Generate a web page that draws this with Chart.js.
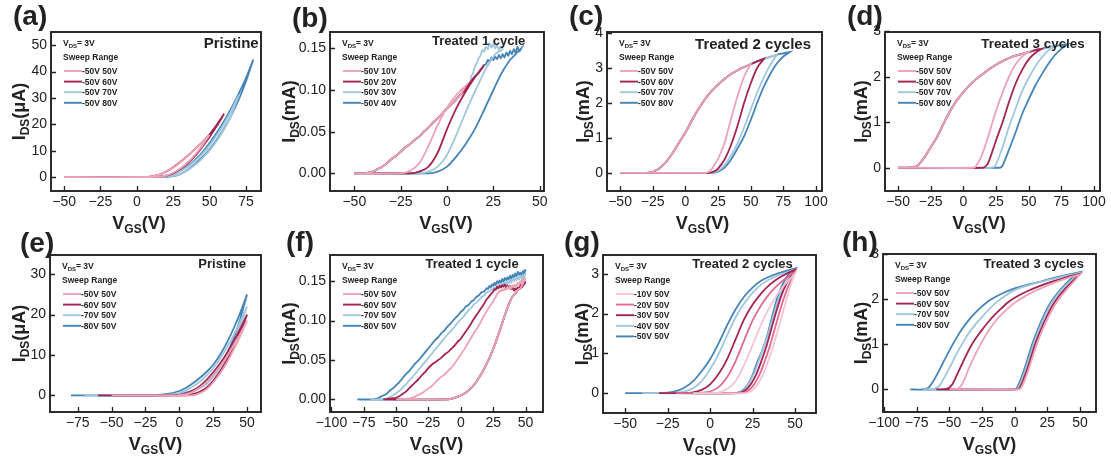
<!DOCTYPE html>
<html>
<head>
<meta charset="utf-8">
<script src="https://cdn.jsdelivr.net/npm/chart.js@4.4.1/dist/chart.umd.min.js"></script>
<style>
  html, body { margin: 0; padding: 0; background: #fff; }
  #fig { position: relative; width: 1111px; height: 464px; overflow: hidden; background: #fff; }
  #fig canvas { position: absolute; }
</style>
</head>
<body>
<div id="fig"></div>
<script>
// ---------- transfer curves: each sweep is [V_GS, I_DS] pairs, forward (Up) then backward (Dn) ----------

// (a) pristine, I_DS in uA
const sweepsA = ['-50V 50V', '-50V 60V', '-50V 70V', '-50V 80V'];
const a50Up = [[-50,0],[10,0],[15,0.1],[20,0.5],[25,1.6],[30,3.3],[35,5.6],[40,8.5],[45,12],[50,16]];
const a50Dn = [[50,16],[45,13.2],[40,10.6],[35,8],[30,5.7],[25,3.6],[20,2],[15,0.8],[10,0.2],[5,0],[-50,0]];
const a60Up = [[-50,0],[12,0],[15,0.1],[20,0.4],[25,1.4],[30,3],[35,5.2],[40,8],[45,11.5],[50,15.2],[55,19.4],[60,24]];
const a60Dn = [[60,24],[55,19.9],[50,16.2],[45,13.2],[40,10.6],[35,8.1],[30,5.8],[25,3.7],[20,2],[15,0.8],[10,0.2],[5,0],[-50,0]];
const a70Up = [[-50,0],[18,0],[20,0.1],[25,0.4],[30,1.2],[35,2.6],[40,4.6],[45,7.1],[50,10.1],[55,13.8],[60,18.2],[65,23.6],[70,31]];
const a70Dn = [[70,31],[65,25.4],[60,20.3],[55,15.9],[50,12],[45,8.8],[40,6.1],[35,3.9],[30,2.3],[25,1.1],[20,0.4],[15,0.1],[10,0],[-50,0]];
const a80Up = [[-50,0],[20,0],[25,0.3],[30,1.2],[35,2.8],[40,5],[45,7.5],[50,10.5],[55,14.2],[60,18.5],[65,23.5],[70,29.3],[75,36.3],[80,44.5]];
const a80Dn = [[80,44.5],[75,37.6],[70,31.6],[65,26.2],[60,21.3],[55,16.9],[50,12.9],[45,9.4],[40,6.5],[35,4.2],[30,2.5],[25,1.3],[20,0.5],[15,0.15],[10,0],[-50,0]];

// (b) treated 1 cycle, I_DS in mA; backward sweeps share one envelope
const sweepsB = ['-50V 10V', '-50V 20V', '-50V 30V', '-50V 40V'];
const bEnvelope = [[20,0.13],[17.5,0.122],[15,0.116],[12.5,0.109],[10,0.101],[7.5,0.095],[5,0.089],[2.5,0.083],[0,0.078],[-2.5,0.072],[-5,0.066],[-7.5,0.061],[-10,0.055],[-12.5,0.05],[-15,0.044],[-17.5,0.04],[-20,0.035],[-22.5,0.031],[-25,0.026],[-27.5,0.021],[-30,0.017],[-32.5,0.012],[-35,0.008],[-37.5,0.005],[-40,0.002],[-45,0],[-50,0]];
const b10Up = [[-50,0],[-25,0],[-20,0.003],[-15,0.012],[-10,0.033],[-5,0.058],[0,0.079],[5,0.094],[10,0.105]];
const b10Dn = [[10,0.105]].concat(bEnvelope.filter(p => p[0] < 10));
const b20Up = [[-50,0],[-20,0],[-15,0.002],[-10,0.008],[-5,0.025],[0,0.053],[5,0.078],[10,0.098],[15,0.115],[20,0.13]];
const b20Dn = [[20,0.13]].concat(bEnvelope.filter(p => p[0] < 20));
const b30Up = [[-50,0],[-15,0],[-10,0.002],[-5,0.008],[0,0.022],[5,0.046],[10,0.073],[15,0.098],[18,0.112],[21,0.126],[23,0.133],[25,0.14],[27,0.145],[29,0.147],[30,0.149]];
const b30Dn = [[30,0.149],[29,0.152],[28,0.148],[27,0.154],[26,0.15],[25,0.155],[24,0.151],[23,0.156],[22,0.149],[21,0.152],[20,0.146],[19,0.148],[18,0.141],[17,0.138],[16,0.132],[15,0.128],[14,0.12],[13,0.116]].concat(bEnvelope.filter(p => p[0] < 13));
const b40Up = [[-50,0],[-10,0],[-5,0.002],[0,0.008],[5,0.02],[10,0.035],[15,0.053],[20,0.076],[25,0.1],[28,0.114],[31,0.126],[34,0.136],[37,0.143],[40,0.15]];
const b40Dn = [[40,0.15],[39,0.146],[38,0.152],[37,0.145],[36,0.149],[35,0.143],[34,0.147],[33,0.141],[32,0.145],[31,0.139],[30,0.143],[29,0.138],[28,0.142],[27,0.137],[26,0.14],[25,0.136],[24,0.139],[23,0.134],[22,0.136],[21,0.131],[20,0.13],[19,0.126],[18,0.124],[17,0.12],[16,0.118]].concat(bEnvelope.filter(p => p[0] < 16));

// (c) treated 2 cycles, I_DS in mA
const sweepsC = ['-50V 50V', '-50V 60V', '-50V 70V', '-50V 80V'];
const cUpper = [[80,3.45],[75,3.41],[70,3.37],[65,3.31],[60,3.25],[55,3.18],[50,3.1],[45,3.02],[40,2.93],[35,2.82],[30,2.68],[25,2.52],[20,2.33],[15,2.1],[10,1.82],[5,1.5],[0,1.15],[-5,0.85],[-10,0.55],[-15,0.3],[-20,0.12],[-25,0.03],[-30,0],[-50,0]];
const c50Up = [[-50,0],[15,0],[18,0.03],[20,0.1],[25,0.4],[30,0.85],[35,1.55],[40,2.2],[45,2.75],[50,3.1]];
const c50Dn = [[50,3.1]].concat(cUpper.filter(p => p[0] < 50));
const c60Up = [[-50,0],[18,0],[22,0.04],[25,0.12],[30,0.38],[35,0.8],[40,1.35],[45,2.0],[50,2.55],[55,3.0],[60,3.25]];
const c60Dn = [[60,3.25]].concat(cUpper.filter(p => p[0] < 60));
const c70Up = [[-50,0],[20,0],[25,0.06],[30,0.22],[35,0.5],[40,0.85],[45,1.3],[50,1.8],[55,2.3],[60,2.72],[65,3.08],[70,3.37]];
const c70Dn = [[70,3.37]].concat(cUpper.filter(p => p[0] < 70));
const c80Up = [[-50,0],[22,0],[25,0.03],[30,0.15],[35,0.38],[40,0.7],[45,1.05],[50,1.5],[55,2.0],[60,2.45],[65,2.82],[70,3.12],[75,3.32],[80,3.45]];
const c80Dn = [[80,3.45]].concat(cUpper.filter(p => p[0] < 80));

// (d) treated 3 cycles, I_DS in mA
const sweepsD = ['-50V 50V', '-50V 60V', '-50V 70V', '-50V 80V'];
const dUpper = [[80,2.71],[75,2.69],[70,2.67],[65,2.64],[60,2.61],[55,2.58],[50,2.54],[45,2.5],[40,2.46],[35,2.41],[30,2.34],[25,2.26],[20,2.17],[15,2.06],[10,1.95],[5,1.82],[0,1.66],[-5,1.48],[-10,1.25],[-15,0.98],[-20,0.68],[-25,0.45],[-30,0.22],[-35,0.05],[-40,0],[-50,0]];
const d50Up = [[-50,0],[8,0],[10,0.05],[13,0.2],[16,0.42],[20,0.78],[25,1.25],[30,1.65],[35,2.0],[40,2.27],[45,2.44],[50,2.54]];
const d50Dn = [[50,2.54]].concat(dUpper.filter(p => p[0] < 50));
const d60Up = [[-50,0],[15,0],[18,0.06],[20,0.18],[25,0.6],[30,1.0],[35,1.45],[40,1.85],[45,2.15],[50,2.38],[55,2.52],[60,2.61]];
const d60Dn = [[60,2.61]].concat(dUpper.filter(p => p[0] < 60));
const d70Up = [[-50,0],[22,0],[25,0.08],[30,0.45],[35,0.9],[40,1.3],[45,1.68],[50,1.97],[55,2.22],[60,2.42],[65,2.57],[70,2.67]];
const d70Dn = [[70,2.67]].concat(dUpper.filter(p => p[0] < 70));
const d80Up = [[-50,0],[28,0],[30,0.05],[35,0.4],[40,0.78],[45,1.18],[50,1.5],[55,1.8],[60,2.05],[65,2.28],[70,2.47],[75,2.61],[80,2.71]];
const d80Dn = [[80,2.71]].concat(dUpper.filter(p => p[0] < 80));

// (e) pristine, negative start varied, I_DS in uA
const sweepsE = ['-50V 50V', '-60V 50V', '-70V 50V', '-80V 50V'];
const e50Up = [[-50,0],[10,0],[15,0.5],[20,1.5],[25,3.2],[30,5.4],[35,8.1],[40,11.2],[45,14.7],[50,18.5]];
const e50Dn = [[50,18.5],[45,15.3],[40,12.3],[35,9.6],[30,7.2],[25,5.1],[20,3.3],[15,1.9],[10,0.9],[5,0.3],[0,0.05],[-5,0],[-50,0]];
const e60Up = [[-60,0],[5,0],[10,0.3],[15,0.9],[20,1.9],[25,3.6],[30,5.9],[35,8.7],[40,11.9],[45,15.6],[50,20]];
const e60Dn = [[50,20],[45,16.5],[40,13.3],[35,10.4],[30,7.9],[25,5.7],[20,3.8],[15,2.3],[10,1.2],[5,0.5],[0,0.15],[-10,0],[-60,0]];
const e70Up = [[-70,0],[-5,0],[0,0.2],[5,0.5],[10,0.9],[15,1.7],[20,2.8],[25,4.5],[30,6.8],[35,9.6],[40,13],[45,17.2],[50,22]];
const e70Dn = [[50,22],[45,18.3],[40,14.8],[35,11.8],[30,9.1],[25,6.8],[20,4.9],[15,3.4],[10,2.2],[5,1.3],[0,0.6],[-10,0.15],[-20,0],[-70,0]];
const e80Up = [[-80,0],[-10,0],[0,0.3],[5,0.7],[10,1.2],[15,2.0],[20,3.2],[25,5],[30,7.4],[35,10.3],[40,14],[45,19],[50,25]];
const e80Dn = [[50,25],[45,20.5],[40,16.5],[35,13],[30,10],[25,7.6],[20,5.8],[15,4.3],[10,3],[5,1.9],[0,1.1],[-10,0.3],[-20,0.05],[-30,0],[-80,0]];

// (f) treated 1 cycle, negative start varied, I_DS in mA; forward sweeps share one rise
const sweepsF = ['-50V 50V', '-60V 50V', '-70V 50V', '-80V 50V'];
const fRise = [[-10,0],[-5,0.002],[0,0.005],[5,0.01],[10,0.018],[15,0.03],[20,0.045],[25,0.064],[30,0.087],[33,0.102],[36,0.116],[38,0.124],[40,0.131],[42,0.134],[44,0.139],[46,0.141]];
const f50Up = [[-50,0]].concat(fRise, [[48,0.147],[50,0.155]]);
const f50Dn = [[50,0.155],[49,0.15],[48,0.153],[47,0.147],[46,0.15],[45,0.145],[44,0.148],[43,0.143],[42,0.146],[41,0.142],[40,0.145],[39,0.141],[38,0.143],[37,0.14],[36,0.143],[35,0.139],[34,0.141],[33,0.138],[32,0.14],[31,0.137],[30,0.138],[29,0.135],[28,0.134],[27,0.13],[26,0.128],[25,0.124],[24,0.122],[22,0.117],[20,0.112],[17.5,0.105],[15,0.097],[12.5,0.09],[10,0.084],[7.5,0.077],[5,0.07],[2.5,0.063],[0,0.057],[-2.5,0.051],[-5,0.045],[-7.5,0.04],[-10,0.036],[-12.5,0.032],[-15,0.029],[-17.5,0.025],[-20,0.021],[-22.5,0.017],[-25,0.014],[-27.5,0.011],[-30,0.008],[-35,0.004],[-40,0.001],[-45,0],[-50,0]];
const f60Up = [[-60,0]].concat(fRise, [[48,0.144],[50,0.15]]);
const f60Dn = [[50,0.15],[49,0.146],[48,0.148],[47,0.143],[46,0.145],[45,0.14],[44,0.142],[43,0.139],[42,0.141],[41,0.138],[40,0.142],[39,0.14],[38,0.144],[37,0.141],[36,0.145],[35,0.142],[34,0.146],[33,0.143],[32,0.145],[31,0.142],[30,0.144],[29,0.141],[28,0.143],[27,0.139],[26,0.14],[25,0.137],[24,0.135],[22,0.131],[20,0.127],[17.5,0.12],[15,0.114],[12.5,0.108],[10,0.102],[7.5,0.095],[5,0.089],[2.5,0.083],[0,0.077],[-2.5,0.073],[-5,0.068],[-7.5,0.064],[-10,0.06],[-12.5,0.057],[-15,0.053],[-17.5,0.05],[-20,0.047],[-22.5,0.044],[-25,0.04],[-27.5,0.035],[-30,0.031],[-32.5,0.026],[-35,0.022],[-37.5,0.018],[-40,0.014],[-42.5,0.01],[-45,0.007],[-47.5,0.004],[-50,0.002],[-55,0.001],[-60,0]];
const f70Up = [[-70,0]].concat(fRise, [[48,0.153],[50,0.16]]);
const f70Dn = [[50,0.16],[49,0.155],[48,0.158],[47,0.153],[46,0.157],[45,0.152],[44,0.156],[43,0.151],[42,0.154],[41,0.15],[40,0.153],[39,0.148],[38,0.152],[37,0.147],[36,0.15],[35,0.146],[34,0.149],[33,0.145],[32,0.147],[31,0.143],[30,0.146],[29,0.142],[28,0.144],[27,0.14],[26,0.142],[25,0.139],[24,0.14],[22,0.137],[20,0.136],[18,0.132],[16,0.13],[14,0.126],[12,0.123],[10,0.12],[8,0.116],[6,0.113],[4,0.109],[2,0.105],[0,0.102],[-2.5,0.097],[-5,0.092],[-7.5,0.087],[-10,0.083],[-12.5,0.078],[-15,0.073],[-17.5,0.068],[-20,0.063],[-22.5,0.058],[-25,0.053],[-27.5,0.048],[-30,0.043],[-32.5,0.038],[-35,0.033],[-37.5,0.028],[-40,0.024],[-42.5,0.019],[-45,0.015],[-47.5,0.011],[-50,0.008],[-52.5,0.005],[-55,0.003],[-60,0],[-70,0]];
const f80Up = [[-80,0]].concat(fRise, [[48,0.156],[50,0.165]]);
const f80Dn = [[50,0.165],[49,0.159],[48,0.163],[47,0.157],[46,0.161],[45,0.158],[44,0.162],[43,0.156],[42,0.16],[41,0.155],[40,0.158],[39,0.153],[38,0.157],[37,0.152],[36,0.155],[35,0.151],[34,0.154],[33,0.149],[32,0.153],[31,0.148],[30,0.151],[29,0.147],[28,0.15],[27,0.145],[26,0.148],[25,0.144],[24,0.146],[23,0.142],[22,0.144],[21,0.14],[20,0.141],[18,0.137],[16,0.136],[14,0.132],[12,0.13],[10,0.126],[8,0.124],[6,0.12],[4,0.118],[2,0.114],[0,0.111],[-2.5,0.106],[-5,0.102],[-7.5,0.097],[-10,0.093],[-12.5,0.088],[-15,0.084],[-17.5,0.079],[-20,0.075],[-22.5,0.07],[-25,0.065],[-27.5,0.06],[-30,0.055],[-32.5,0.05],[-35,0.046],[-37.5,0.041],[-40,0.036],[-42.5,0.032],[-45,0.027],[-47.5,0.022],[-50,0.018],[-52.5,0.014],[-55,0.011],[-57.5,0.007],[-60,0.005],[-62.5,0.003],[-65,0.001],[-70,0],[-80,0]];

// (g) treated 2 cycles, negative start varied, I_DS in mA
const sweepsG = ['-10V 50V', '-20V 50V', '-30V 50V', '-40V 50V', '-50V 50V'];
const g10Up = [[-10,0],[21,0],[24,0.05],[26,0.12],[28,0.22],[31,0.45],[34,0.78],[37,1.15],[40,1.6],[43,2.05],[46,2.5],[48,2.78],[50,3.0]];
const g10Dn = [[50,3.0],[45,2.78],[40,2.5],[35,2.15],[30,1.72],[25,1.2],[20,0.7],[15,0.3],[10,0.1],[5,0.02],[0,0],[-10,0]];
const g20Up = [[-20,0],[19,0],[22,0.05],[24,0.12],[26,0.22],[29,0.45],[32,0.78],[35,1.15],[38,1.6],[41,2.05],[44,2.45],[47,2.78],[50,3.05]];
const g20Dn = [[50,3.05],[45,2.9],[40,2.72],[35,2.5],[30,2.2],[25,1.82],[20,1.32],[15,0.8],[10,0.4],[5,0.15],[0,0.04],[-5,0.01],[-10,0],[-20,0]];
const g30Up = [[-30,0],[17,0],[20,0.05],[22,0.12],[24,0.22],[27,0.45],[30,0.78],[33,1.15],[36,1.6],[39,2.05],[42,2.45],[45,2.75],[48,2.97],[50,3.1]];
const g30Dn = [[50,3.1],[45,3.0],[40,2.88],[35,2.72],[30,2.5],[25,2.22],[20,1.85],[15,1.35],[10,0.85],[5,0.48],[0,0.22],[-5,0.08],[-10,0.02],[-15,0],[-30,0]];
const g40Up = [[-40,0],[16,0],[19,0.05],[21,0.12],[23,0.25],[26,0.5],[29,0.85],[32,1.2],[35,1.6],[38,2.05],[41,2.45],[44,2.75],[47,2.95],[50,3.1]];
const g40Dn = [[50,3.1],[45,3.03],[40,2.96],[35,2.86],[30,2.72],[25,2.52],[20,2.25],[15,1.9],[10,1.45],[5,0.98],[0,0.6],[-5,0.3],[-10,0.12],[-15,0.04],[-20,0.01],[-25,0],[-40,0]];
const g50Up = [[-50,0],[15,0],[18,0.04],[20,0.1],[22,0.2],[25,0.45],[28,0.8],[31,1.1],[34,1.5],[37,2.0],[40,2.45],[43,2.75],[46,2.97],[50,3.13]];
const g50Dn = [[50,3.13],[45,3.07],[40,3.01],[35,2.93],[30,2.82],[25,2.65],[20,2.42],[15,2.1],[10,1.7],[5,1.25],[0,0.85],[-5,0.55],[-10,0.3],[-15,0.14],[-20,0.05],[-25,0.01],[-30,0],[-50,0]];

// (h) treated 3 cycles, negative start varied, I_DS in mA
const sweepsH = ['-50V 50V', '-60V 50V', '-70V 50V', '-80V 50V'];
const h50Up = [[-50,0],[3,0],[5,0.04],[8,0.23],[11,0.47],[14,0.74],[17,1.0],[21,1.3],[25,1.55],[30,1.83],[35,2.04],[40,2.22],[45,2.38],[50,2.55]];
const h50Dn = [[50,2.55],[40,2.46],[30,2.36],[20,2.24],[10,2.1],[0,1.92],[-5,1.8],[-10,1.66],[-15,1.5],[-20,1.3],[-25,1.06],[-30,0.78],[-35,0.47],[-38,0.25],[-41,0.08],[-44,0.01],[-50,0]];
const h60Up = [[-60,0],[2,0],[4,0.04],[7,0.24],[10,0.48],[13,0.76],[16,1.03],[20,1.32],[24,1.58],[29,1.86],[34,2.07],[39,2.24],[44,2.39],[50,2.56]];
const h60Dn = [[50,2.56],[40,2.49],[30,2.4],[20,2.3],[10,2.18],[0,2.03],[-5,1.93],[-10,1.8],[-15,1.66],[-20,1.5],[-25,1.32],[-30,1.12],[-35,0.88],[-40,0.58],[-45,0.27],[-48,0.1],[-52,0.01],[-60,0]];
const h70Up = [[-70,0],[1,0],[3,0.05],[6,0.25],[9,0.5],[12,0.78],[15,1.05],[19,1.35],[23,1.62],[28,1.9],[33,2.1],[38,2.27],[43,2.41],[47,2.5],[50,2.58]];
const h70Dn = [[50,2.58],[40,2.52],[30,2.45],[20,2.38],[10,2.3],[0,2.2],[-10,2.02],[-15,1.9],[-20,1.76],[-25,1.6],[-30,1.44],[-35,1.25],[-40,1.02],[-45,0.76],[-50,0.47],[-55,0.2],[-58,0.07],[-62,0.01],[-70,0]];
const h80Up = [[-80,0],[0,0],[2,0.05],[5,0.25],[8,0.5],[11,0.78],[14,1.05],[18,1.35],[22,1.62],[27,1.9],[32,2.1],[37,2.27],[42,2.42],[46,2.52],[50,2.6]];
const h80Dn = [[50,2.6],[40,2.54],[30,2.47],[20,2.39],[10,2.32],[0,2.24],[-10,2.12],[-20,1.96],[-25,1.84],[-30,1.7],[-35,1.54],[-40,1.35],[-45,1.12],[-50,0.86],[-55,0.58],[-60,0.3],[-63,0.15],[-66,0.04],[-70,0],[-80,0]];

// ---------- tick values ----------
const xTicksA = [-50, -25, 0, 25, 50, 75];        const yTicksA = [0, 10, 20, 30, 40, 50];
const xTicksB = [-50, -25, 0, 25, 50];            const yTicksB = [0, 0.05, 0.1, 0.15];
const xTicksC = [-50, -25, 0, 25, 50, 75, 100];   const yTicksC = [0, 1, 2, 3, 4];
const xTicksD = [-50, -25, 0, 25, 50, 75, 100];   const yTicksD = [0, 1, 2, 3];
const xTicksE = [-75, -50, -25, 0, 25, 50];       const yTicksE = [0, 10, 20, 30];
const xTicksF = [-100, -75, -50, -25, 0, 25, 50]; const yTicksF = [0, 0.05, 0.1, 0.15];
const xTicksG = [-50, -25, 0, 25, 50];            const yTicksG = [0, 1, 2, 3];
const xTicksH = [-100, -75, -50, -25, 0, 25, 50]; const yTicksH = [0, 1, 2, 3];

// ---------- styling ----------
const FONT = "'Liberation Sans', Arial, Helvetica, sans-serif";
const INK = '#222222';
const PINK_L = '#EDA3B5', CRIMSON = '#A32452', BLUE_L = '#A0C6DE', BLUE = '#4584B6';
const PALE_PINK = '#F4C6D1', PINK = '#E26A8E';
const colors4 = [PINK_L, CRIMSON, BLUE_L, BLUE];
const colors5 = [PALE_PINK, PINK, CRIMSON, BLUE_L, BLUE];

// box = [left, top, right, bottom] of each plot frame on the page
const panelSpecs = [
  { name: '(a)', box: [51, 32, 261, 191], xr: [-59, 85.3], yr: [-5.3, 55], xt: xTicksA, yt: yTicksA, dec: 0, unit: 'μA',
    title: 'Pristine', tSize: 15, tRight: 2.3, tY: 10.7, letter: [-38, -15], yTitleDx: -33, xTitleDx: -17,
    labels: sweepsA, colors: colors4, loops: [[a50Up, a50Dn], [a60Up, a60Dn], [a70Up, a70Dn], [a80Up, a80Dn]] },
  { name: '(b)', box: [330, 32, 544, 191], xr: [-63.1, 52.3], yr: [-0.0212, 0.1696], xt: xTicksB, yt: yTicksB, dec: 2, unit: 'mA',
    title: 'Treated 1 cycle', tSize: 13, tRight: 18.7, tY: 8.7, letter: [-38, -13], yTitleDx: -42, xTitleDx: 9,
    labels: sweepsB, colors: colors4, loops: [[b10Up, b10Dn], [b20Up, b20Dn], [b30Up, b30Dn], [b40Up, b40Dn]] },
  { name: '(c)', box: [607, 32, 822, 191], xr: [-60, 104.6], yr: [-0.52, 4.02], xt: xTicksC, yt: yTicksC, dec: 0, unit: 'mA',
    title: 'Treated 2 cycles', tSize: 15, tRight: 11, tY: 11.3, letter: [-38, -14.5], yTitleDx: -24.3, xTitleDx: -12,
    labels: sweepsC, colors: colors4, loops: [[c50Up, c50Dn], [c60Up, c60Dn], [c70Up, c70Dn], [c80Up, c80Dn]] },
  { name: '(d)', box: [885, 32, 1100, 191], xr: [-60, 104.6], yr: [-0.51, 2.98], xt: xTicksD, yt: yTicksD, dec: 0, unit: 'mA',
    title: 'Treated 3 cycles', tSize: 13.4, tRight: 15.3, tY: 10.7, letter: [-38, -14.5], yTitleDx: -24.3, xTitleDx: -13.5,
    labels: sweepsD, colors: colors4, loops: [[d50Up, d50Dn], [d60Up, d60Dn], [d70Up, d70Dn], [d80Up, d80Dn]] },
  { name: '(e)', box: [50, 255, 261, 412], xr: [-95.5, 60.3], yr: [-4.1, 34.75], xt: xTicksE, yt: yTicksE, dec: 0, unit: 'μA',
    title: 'Pristine', tSize: 13, tRight: 15, tY: 8.7, letter: [-30, -11], yTitleDx: -32, xTitleDx: 0,
    labels: sweepsE, colors: colors4, loops: [[e50Up, e50Dn], [e60Up, e60Dn], [e70Up, e70Dn], [e80Up, e80Dn]] },
  { name: '(f)', box: [330, 255, 543, 412], xr: [-101.1, 63.5], yr: [-0.0159, 0.1832], xt: xTicksF, yt: yTicksF, dec: 2, unit: 'mA',
    title: 'Treated 1 cycle', tSize: 13, tRight: 24.3, tY: 8.7, letter: [-44, -12], yTitleDx: -42, xTitleDx: 0,
    labels: sweepsF, colors: colors4, loops: [[f50Up, f50Dn], [f60Up, f60Dn], [f70Up, f70Dn], [f80Up, f80Dn]] },
  { name: '(g)', box: [603, 255, 816, 413], xr: [-63.1, 62.4], yr: [-0.5, 3.47], xt: xTicksG, yt: yTicksG, dec: 0, unit: 'mA',
    title: 'Treated 2 cycles', tSize: 13, tRight: 23.3, tY: 8, letter: [-39, -12], yTitleDx: -21.7, xTitleDx: 0,
    labels: sweepsG, colors: colors5, loops: [[g10Up, g10Dn], [g20Up, g20Dn], [g30Up, g30Dn], [g40Up, g40Dn], [g50Up, g50Dn]] },
  { name: '(h)', box: [883, 254, 1096, 412], xr: [-100.8, 62.3], yr: [-0.5, 3.0], xt: xTicksH, yt: yTicksH, dec: 0, unit: 'mA',
    title: 'Treated 3 cycles', tSize: 13, tRight: 12, tY: 9, letter: [-41, -11], yTitleDx: -22.3, xTitleDx: 0,
    labels: sweepsH, colors: colors4, loops: [[h50Up, h50Dn], [h60Up, h60Dn], [h70Up, h70Dn], [h80Up, h80Dn]] }
];

// ---------- drawing helpers ----------
const YW = 64, PT = 32, PR = 14, XH = 50;
const signed = v => (v < 0 ? '\u2212' + Math.abs(v) : String(v));

// draws bold text runs left to right; each run is [text, size, baseline shift]
function richText(ctx, runs, x, y, align) {
  let w = 0;
  runs.forEach(r => { ctx.font = 'bold ' + r[1] + 'px ' + FONT; w += ctx.measureText(r[0]).width; });
  let cx = align === 'center' ? x - w / 2 : (align === 'right' ? x - w : x);
  runs.forEach(r => {
    ctx.font = 'bold ' + r[1] + 'px ' + FONT;
    ctx.fillText(r[0], cx, y + (r[2] || 0));
    cx += ctx.measureText(r[0]).width;
  });
}

function makeDecor(spec) {
  return {
    id: 'panelDecor',
    afterDatasetsDraw(chart) {
      const ctx = chart.ctx, a = chart.chartArea;
      const xs = chart.scales.x, ys = chart.scales.y;
      ctx.save();
      ctx.strokeStyle = INK;
      ctx.fillStyle = INK;
      ctx.textBaseline = 'alphabetic';
      ctx.textAlign = 'left';

      // inward tick marks on the bottom and left axes
      ctx.lineWidth = 1.3;
      ctx.beginPath();
      xs.ticks.forEach(t => {
        const p = Math.round(xs.getPixelForValue(t.value)) + 0.5;
        ctx.moveTo(p, a.bottom); ctx.lineTo(p, a.bottom - 5);
      });
      ys.ticks.forEach(t => {
        const p = Math.round(ys.getPixelForValue(t.value)) + 0.5;
        ctx.moveTo(a.left, p); ctx.lineTo(a.left + 5, p);
      });
      ctx.stroke();

      // plot frame
      ctx.lineWidth = 1.9;
      ctx.strokeRect(a.left, a.top, a.right - a.left, a.bottom - a.top);

      // panel letter
      ctx.font = 'bold 28px ' + FONT;
      ctx.fillText(spec.name, a.left + spec.letter[0], a.top + spec.letter[1] + 7.5);

      // panel title
      ctx.font = 'bold ' + spec.tSize + 'px ' + FONT;
      ctx.textAlign = 'right';
      ctx.fillText(spec.title, a.right - spec.tRight, a.top + spec.tY + 0.36 * spec.tSize);
      ctx.textAlign = 'left';

      // inset: bias and legend
      richText(ctx, [['V', 8.5], ['DS', 6, 2], ['= 3V', 8.5]], a.left + 12, a.top + 11 + 3, 'left');
      richText(ctx, [['Sweep Range', 8.5]], a.left + 12, a.top + 25 + 3, 'left');
      chart.data.datasets.forEach((ds, i) => {
        const y = a.top + 39 + i * 10.6;
        ctx.strokeStyle = ds.borderColor;
        ctx.lineWidth = 1.9;
        ctx.beginPath(); ctx.moveTo(a.left + 13, y); ctx.lineTo(a.left + 31, y); ctx.stroke();
        richText(ctx, [[ds.label, 8.5]], a.left + 31, y + 3, 'left');
      });

      // axis titles
      const xc = (a.left + a.right) / 2 + spec.xTitleDx;
      richText(ctx, [['V', 18], ['GS', 12, 4], ['(V)', 18]], xc, a.bottom + 31 + 6.5, 'center');
      ctx.translate(a.left + spec.yTitleDx, (a.top + a.bottom) / 2);
      ctx.rotate(-Math.PI / 2);
      richText(ctx, [['I', 18], ['DS', 12, 4], ['(' + spec.unit + ')', 18]], 0, 6.5, 'center');
      ctx.restore();
    }
  };
}

Chart.defaults.font.family = FONT;
const fig = document.getElementById('fig');

panelSpecs.forEach(spec => {
  const [L, T, R, B] = spec.box;
  const w = YW + (R - L) + PR, h = PT + (B - T) + XH;
  const cv = document.createElement('canvas');
  cv.width = w; cv.height = h;
  cv.style.left = (L - YW) + 'px'; cv.style.top = (T - PT) + 'px';
  cv.style.width = w + 'px'; cv.style.height = h + 'px';
  fig.appendChild(cv);

  new Chart(cv, {
    type: 'scatter',
    data: {
      datasets: spec.loops.map((lp, i) => ({
        label: spec.labels[i],
        data: lp[0].concat(lp[1]).map(p => ({ x: p[0], y: p[1] })),
        showLine: true,
        borderColor: spec.colors[i],
        backgroundColor: spec.colors[i],
        borderWidth: 1.8,
        pointRadius: 0,
        pointHoverRadius: 0,
        tension: 0.25,
        fill: false
      }))
    },
    options: {
      responsive: false,
      animation: false,
      devicePixelRatio: 1,
      events: [],
      layout: { padding: { top: PT, right: PR, left: 0, bottom: 0 } },
      plugins: { legend: { display: false }, tooltip: { enabled: false }, title: { display: false } },
      scales: {
        x: {
          type: 'linear', position: 'bottom', min: spec.xr[0], max: spec.xr[1],
          afterFit: s => { s.height = XH; },
          afterBuildTicks: s => { s.ticks = spec.xt.map(v => ({ value: v })); },
          grid: { display: false, drawTicks: false, tickLength: 0 },
          border: { display: false },
          ticks: { autoSkip: false, maxRotation: 0, minRotation: 0, padding: 3, color: INK,
                   font: { size: 14, family: FONT }, callback: v => signed(v) }
        },
        y: {
          type: 'linear', position: 'left', min: spec.yr[0], max: spec.yr[1],
          afterFit: s => { s.width = YW; },
          afterBuildTicks: s => { s.ticks = spec.yt.map(v => ({ value: v })); },
          grid: { display: false, drawTicks: false, tickLength: 0 },
          border: { display: false },
          ticks: { autoSkip: false, padding: 4, color: INK, font: { size: 14, family: FONT },
                   callback: v => (spec.dec ? v.toFixed(spec.dec) : signed(v)) }
        }
      }
    },
    plugins: [makeDecor(spec)]
  });
});
</script>
</body>
</html>
